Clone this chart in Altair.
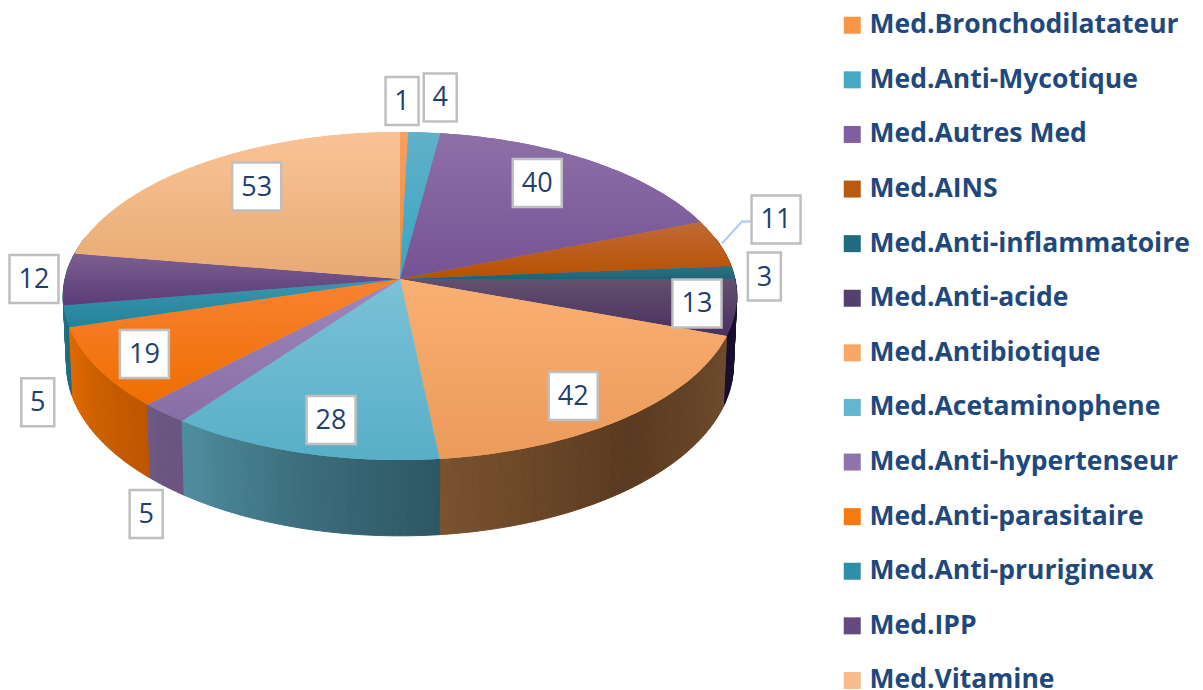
import math
import altair as alt
import pandas as pd

categories = ["Med.Bronchodilatateur", "Med.Anti-Mycotique", "Med.Autres Med", "Med.AINS",
              "Med.Anti-inflammatoire", "Med.Anti-acide", "Med.Antibiotique", "Med.Acetaminophene",
              "Med.Anti-hypertenseur", "Med.Anti-parasitaire", "Med.Anti-prurigineux", "Med.IPP",
              "Med.Vitamine"]
values = [1, 4, 40, 11, 3, 13, 42, 28, 5, 19, 5, 12, 53]

# flat colour for the legend
legend_colors = ["#F79646", "#45A9C6", "#7F5F9F", "#BA5A10", "#1F6C7E", "#53406F", "#F9A765",
                 "#62B6CF", "#8F74AB", "#F77A10", "#2F8FA8", "#644A80", "#F6BC8C"]
top_light = ["#F9A060", "#62B0C8", "#8E70A8", "#C06A38", "#2A7284", "#63506F", "#FAAF73",
             "#7AC2D7", "#A088BA", "#FA8232", "#3C96AF", "#7D5F91", "#FAC396"]
top_dark = ["#EE8A36", "#36A6C4", "#755295", "#B85000", "#1C6476", "#4A3060", "#EB9B5A",
            "#58AFC8", "#876EA5", "#EE6E00", "#23829B", "#5A3C78", "#E8AA73"]
# side wall colour at start, middle and end of each slice
side_a = ["#9A5A28", "#2A6A7C", "#4C3A62", "#703000", "#164C58", "#231438", "#6E4B2D",
          "#2E5663", "#6B5480", "#BD5500", "#1D6A7C", "#1D6A7C", "#9A7050"]
side_b = ["#9A5A28", "#2A6A7C", "#4C3A62", "#703000", "#164C58", "#1C1030", "#5A3A20",
          "#3C6E7D", "#6A5580", "#CC5F00", "#20707F", "#1D6A7C", "#9A7050"]
side_c = ["#9A5A28", "#2A6A7C", "#4C3A62", "#703000", "#164C58", "#160E2D", "#7A5230",
          "#4F8E9F", "#6E5A85", "#E26A00", "#237685", "#1D6A7C", "#9A7050"]
# value labels are offset from the slice's outer rim at mid-angle
label_dx = [-2, 16, -54, 57, 31, -39, -52, 29, -18, 47, -28, -31, 58]
label_dy = [-31, -35, 22, -24, 4, -4, -22, -33, 101, -14, 86, 0, 22]

MARGIN = 8
CX, CY = 400 - MARGIN, 279 - MARGIN
RX, RY, PERSP, DEPTH, SHRINK = 335.0, 162.2, 0.1037, 68.0, 0.99
BOX_H = 48
FONT = "Open Sans"
INK = "#1F3F6E"
LEGEND_INK = "#1F497D"


def rim(t_deg, bottom=False):
    t = math.radians(t_deg)
    w = 1 + PERSP * math.cos(t)
    s = SHRINK if bottom else 1.0
    x = CX + s * RX * math.sin(t) / w
    y = CY - RY * math.cos(t) / w + (DEPTH / w if bottom else 0)
    return [x, y]


def steps(t0, t1, n_per_deg=1):
    n = max(2, int((t1 - t0) * n_per_deg) + 1)
    return [t0 + (t1 - t0) * i / (n - 1) for i in range(n)]


def hex_mix(c1, c2, f):
    a = [int(c1[i:i + 2], 16) for i in (1, 3, 5)]
    b = [int(c2[i:i + 2], 16) for i in (1, 3, 5)]
    return "#%02x%02x%02x" % tuple(round(p + (q - p) * f) for p, q in zip(a, b))


total = sum(values)
edges = [0.0]
for v in values:
    edges.append(edges[-1] + 360.0 * v / total)

top_features, side_strips = [], []
for i, med in enumerate(categories):
    t0, t1 = edges[i], edges[i + 1]
    ring = [[CX, CY]] + [rim(t) for t in steps(t0, t1)] + [[CX, CY]]
    top_features.append({"type": "Feature", "properties": {"med": med},
                         "geometry": {"type": "Polygon", "coordinates": [ring]}})
    ts = steps(t0, t1)
    for j in range(len(ts) - 1):
        a, b = ts[j], ts[j + 1]
        if b < 75 or a > 285:
            continue
        f = (j + 0.5) / (len(ts) - 1)
        col = hex_mix(side_a[i], side_b[i], f * 2) if f < 0.5 else hex_mix(side_b[i], side_c[i], f * 2 - 1)
        quad = [rim(a), rim(b), rim(b, True), rim(a, True), rim(a)]
        side_strips.append((math.cos(math.radians((a + b) / 2)),
                            {"type": "Feature", "properties": {"fill": col},
                             "geometry": {"type": "Polygon", "coordinates": [quad]}}))
# paint from the back of the disc to the front
side_features = [s[1] for s in sorted(side_strips, key=lambda s: -s[0])]

proj = alt.Projection(type="identity", scale=1, translate=[0, 0])

sides = alt.Chart(alt.Data(values=side_features)).mark_geoshape(strokeWidth=1).encode(
    fill=alt.Fill("properties.fill:N", scale=None),
    stroke=alt.Stroke("properties.fill:N", scale=None),
).project(**proj.to_dict())

base_top = alt.Chart(alt.Data(values=top_features)).mark_geoshape(strokeWidth=0).encode(
    color=alt.Color("properties.med:N",
                    scale=alt.Scale(domain=categories, range=legend_colors),
                    legend=alt.Legend(title=None, orient="none", legendX=839 - MARGIN, legendY=12 - MARGIN,
                                      symbolType="square", symbolSize=289, symbolStrokeWidth=0,
                                      labelFont=FONT, labelFontWeight="bold", labelFontSize=26.5,
                                      labelColor=LEGEND_INK, labelLimit=400, labelOffset=4,
                                      rowPadding=27.6, padding=0, values=categories)),
).project(**proj.to_dict())

gradient_tops = []
for i in range(len(categories)):
    grad = alt.Gradient(gradient="linear", x1=0, x2=0, y1=0, y2=1,
                        stops=[alt.GradientStop(color=top_light[i], offset=0),
                               alt.GradientStop(color=top_dark[i], offset=1)])
    gradient_tops.append(
        alt.Chart(alt.Data(values=[top_features[i]])).mark_geoshape(fill=grad, strokeWidth=0)
        .project(**proj.to_dict()))

# labels
rows = []
for i, v in enumerate(values):
    mid = (edges[i] + edges[i + 1]) / 2
    x, y = rim(mid)
    lx, ly = x + label_dx[i], y + label_dy[i]
    half = 16.5 if v < 10 else 24.5
    rows.append({"x": lx, "y": ly, "x0": lx - half, "x1": lx + half,
                 "y0": ly - BOX_H / 2, "y1": ly + BOX_H / 2, "label": str(v)})
labels = pd.DataFrame(rows)

boxes = alt.Chart(labels).mark_rect(fill="white", stroke="#BFBFBF", strokeWidth=2.5).encode(
    x=alt.X("x0:Q", scale=None, axis=None), x2="x1:Q",
    y=alt.Y("y0:Q", scale=None, axis=None), y2="y1:Q")
texts = alt.Chart(labels).mark_text(font=FONT, fontSize=27, color=INK, baseline="middle", align="center", dy=1).encode(
    x=alt.X("x:Q", scale=None, axis=None),
    y=alt.Y("y:Q", scale=None, axis=None),
    text="label:N")

ains = categories.index("Med.AINS")
ax, ay = rim((edges[ains] + edges[ains + 1]) / 2)
leader = pd.DataFrame({"x": [ax + 3, ax + 23, ax + 33], "y": [ay, ay - 22, ay - 22], "o": [0, 1, 2]})
leader_line = alt.Chart(leader).mark_line(color="#A6C8EE", strokeWidth=2).encode(
    x=alt.X("x:Q", scale=None, axis=None),
    y=alt.Y("y:Q", scale=None, axis=None),
    order="o:O")

chart = alt.layer(sides, base_top, *gradient_tops, leader_line, boxes, texts).properties(
    width=1187, height=682, padding=0, autosize=alt.AutoSizeParams(type="none")
).configure_view(stroke=None)

chart.save("out.html", embed_options={"renderer": "svg", "actions": False})
